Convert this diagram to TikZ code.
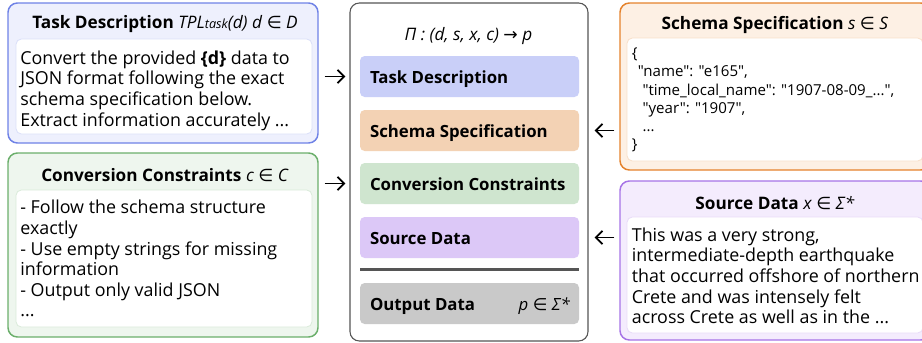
\documentclass[tikz,border=0pt]{standalone}
\usepackage{fontspec}
\setmainfont{Open Sans}
\newfontfamily\symfont{DejaVu Sans}
\newfontfamily\jsonfam{Open Sans}[Ligatures=TeXOff]
\usetikzlibrary{calc,arrows.meta}

\definecolor{taskline}{HTML}{6F82E6}
\definecolor{taskfill}{HTML}{EEF0FD}
\definecolor{taskbar}{HTML}{C9CFF8}
\definecolor{consline}{HTML}{6BAF6B}
\definecolor{consfill}{HTML}{EEF6EE}
\definecolor{consbar}{HTML}{CFE5CF}
\definecolor{schemaline}{HTML}{E5822C}
\definecolor{schemafill}{HTML}{FDF0E4}
\definecolor{schemabar}{HTML}{F3D2B4}
\definecolor{srcline}{HTML}{A673E6}
\definecolor{srcfill}{HTML}{F4ECFD}
\definecolor{srcbar}{HTML}{DCC8F7}
\definecolor{outbar}{HTML}{C9C9C9}
\definecolor{panelline}{HTML}{555555}

\newcommand{\elemof}{{\symfont ∈}}

\begin{document}
\begin{tikzpicture}[x=0.75pt, y=-0.75pt,
    outerbox/.style={draw=#1, line width=1.1pt, rounded corners=7pt, inner sep=0pt},
    innerbox/.style={draw=#1!25, fill=white, line width=0.6pt, rounded corners=4pt, inner sep=0pt},
    boxtitle/.style={anchor=base, inner sep=0pt, font=\titlefont},
    boxtext/.style={anchor=north west, inner sep=0pt, align=left, font=\bodyfont},
    bar/.style={fill=#1, rounded corners=3.5pt, inner sep=0pt, minimum width=219*\px, minimum height=41*\px},
    barlabel/.style={anchor=base west, inner sep=0pt, font=\barfont},
    arr/.style={-{Straight Barb[length=5pt,width=10pt]}, line width=1.35pt},
]

\def\px{0.75pt}
\def\titlefont{\fontsize{12.9}{15}\selectfont}
\def\bodyfont{\fontsize{13.4}{15.4}\selectfont}
\def\barfont{\fontsize{12.6}{14}\selectfont\bfseries}
\def\jsonfont{\fontsize{11.3}{13.7}\selectfont\jsonfam}

\useasboundingbox (0,0) rectangle (922,343);

%LEFT SIDE

\node[outerbox=taskline, fill=taskfill, minimum width=310*\px, minimum height=140*\px] (taskbox) at (163,73) {};
\node[innerbox=taskline, minimum width=296*\px, minimum height=95*\px] (taskin) at (164,86.5) {};
\node[boxtitle] (tasktitle) at (165,28.5) {\textbf{Task Description} \textit{TPL{\fontsize{9.5}{9.5}\selectfont task}(d) d} \elemof{} \textit{D}};
\node[boxtext] (tasktext) at ($(taskin.north west)+(4.5,12)$) {Convert the provided \textbf{\{d\}} data to\\JSON format following the exact\\schema specification below.\\Extract information accurately ...};

\node[outerbox=consline, fill=consfill, minimum width=310*\px, minimum height=184*\px] (consbox) at (163,245) {};
\node[innerbox=consline, minimum width=296*\px, minimum height=137*\px] (consin) at (164,258.5) {};
\node[boxtitle] (constitle) at (165,181) {\textbf{Conversion Constraints} \textit{c} \elemof{} \textit{C}};
\node[boxtext] (constext) at ($(consin.north west)+(4.5,10.5)$) {- Follow the schema structure\\exactly\\- Use empty strings for missing\\information\\- Output only valid JSON\\...};

%PANEL

\node[draw=panelline, fill=white, line width=0.8pt, rounded corners=7pt, inner sep=0pt, minimum width=238*\px, minimum height=338*\px] (panel) at (469,172) {};
\node[inner sep=0pt, anchor=base, font=\titlefont] (paneltitle) at (468.5,40) {\textit{Π : (d, s, x, c)} {\symfont →} \textit{p}};

\node[bar=taskbar] (tbar) at (469.5,76.5) {};
\node[bar=schemabar] (sbar) at (469.5,130.5) {};
\node[bar=consbar] (cbar) at (469.5,183.5) {};
\node[bar=srcbar] (xbar) at (469.5,237.5) {};
\node[bar=outbar] (obar) at (469.5,303.5) {};

\node[barlabel] (tlabel) at ($(tbar.west)+(10,6.5)$) {Task Description};
\node[barlabel] (slabel) at ($(sbar.west)+(10,6.5)$) {Schema Specification};
\node[barlabel] (clabel) at ($(cbar.west)+(10,6.5)$) {Conversion Constraints};
\node[barlabel] (xlabel) at ($(xbar.west)+(10,6.5)$) {Source Data};
\node[barlabel] (olabel) at ($(obar.west)+(10,6.5)$) {Output Data};
\node[inner sep=0pt, anchor=base east, font=\barfont\mdseries] (ovalue) at ($(obar.east)+(-9,6.5)$) {\textit{p} \elemof{} \textit{Σ*}};

\coordinate (sep-l) at (360,269.5);
\coordinate (sep-r) at (579,269.5);
\draw[panelline, line width=1.6pt] (sep-l) -- (sep-r);

%RIGHT SIDE

\node[outerbox=schemaline, fill=schemafill, minimum width=310*\px, minimum height=167*\px] (schemabox) at (775,86.5) {};
\node[innerbox=schemaline, minimum width=296*\px, minimum height=123*\px] (schemain) at (775,99.5) {};
\node[boxtitle] (schematitle) at (775,29) {\textbf{Schema Specification} \textit{s} \elemof{} \textit{S}};
\node[boxtext, font=\jsonfont] (schematext) at ($(schemain.north west)+(5,10)$) {\{\\\hspace*{4.5pt}"name": "e165",\\\hspace*{8pt}"time\_local\_name": "1907-08-09\_...",\\\hspace*{8pt}"year": "1907",\\\hspace*{8pt}...\\\}};

\node[outerbox=srcline, fill=srcfill, minimum width=310*\px, minimum height=159*\px] (srcbox) at (775,260.5) {};
\node[innerbox=srcline, minimum width=296*\px, minimum height=116*\px] (srcin) at (775,275) {};
\node[boxtitle] (srctitle) at (775,209) {\textbf{Source Data} \textit{x} \elemof{} \textit{Σ*}};
\node[boxtext] (srctext) at ($(srcin.north west)+(5,11)$) {This was a very strong,\\intermediate-depth earthquake\\that occurred offshore of northern\\Crete and was intensely felt\\across Crete as well as in the ...};

%ARROWS

\draw[arr, shorten <=4.5pt, shorten >=3pt] (taskbox.east |- tbar.center) -- (panel.west |- tbar.center);
\draw[arr, shorten <=4.5pt, shorten >=3pt] (consbox.east |- cbar.center) -- (panel.west |- cbar.center);
\draw[arr, shorten <=3.75pt, shorten >=4.5pt] (schemabox.west |- sbar.center) -- (panel.east |- sbar.center);
\draw[arr, shorten <=3.75pt, shorten >=4.5pt] (srcbox.west |- xbar.center) -- (panel.east |- xbar.center);

\end{tikzpicture}
\end{document}
